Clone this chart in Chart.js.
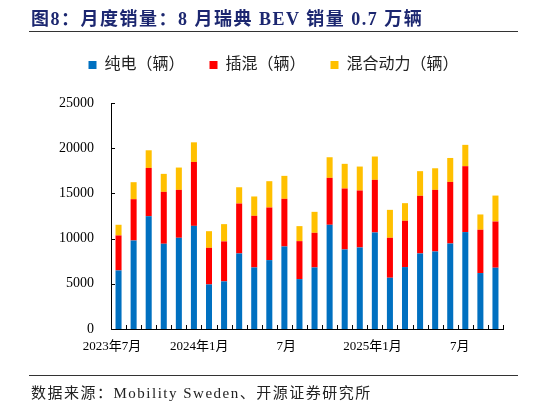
<!DOCTYPE html>
<html>
<head>
<meta charset="utf-8">
<script src="https://cdn.jsdelivr.net/npm/chart.js@4.4.0/dist/chart.umd.min.js"></script>
<style>
  body { margin: 0; background: #fff; }
  #wrap { position: relative; width: 546px; height: 407px; }
  #title {
    position: absolute; left: 31px; top: 4px;
    font: bold 18px "Liberation Serif", "Noto Sans CJK SC", serif;
    letter-spacing: 1.5px;
    color: #1c2770; white-space: nowrap;
  }
  .rule { position: absolute; left: 29px; width: 489px; height: 1px; background: #333; }
  #source {
    position: absolute; left: 31px; top: 381px;
    font: 15px "Liberation Serif", "Noto Sans CJK SC", serif;
    letter-spacing: 1.5px;
    color: #222; white-space: nowrap;
  }
</style>
</head>
<body>
<div id="wrap">
  <canvas id="salesChart"></canvas>
  <div id="title">图8：月度销量：8 月瑞典 BEV 销量 0.7 万辆</div>
  <div class="rule" style="top:31px"></div>
  <div class="rule" style="top:375px"></div>
  <div id="source">数据来源：Mobility Sweden、开源证券研究所</div>
</div>
<script>
//////////////////////// Data ////////////////////////
const months = ['2023年7月', '2023年8月', '2023年9月', '2023年10月', '2023年11月', '2023年12月',
    '2024年1月', '2024年2月', '2024年3月', '2024年4月', '2024年5月', '2024年6月',
    '2024年7月', '2024年8月', '2024年9月', '2024年10月', '2024年11月', '2024年12月',
    '2025年1月', '2025年2月', '2025年3月', '2025年4月', '2025年5月', '2025年6月',
    '2025年7月', '2025年8月'];
// only some months get a label on the axis (date-axis style, sits a bit left of its bar)
const tickLabels = ['2023年7月', '2024年1月', '7月', '2025年1月', '7月'];
const tickPositions = [-0.43, 5.36, 11.12, 16.85, 22.63];

const bev = [6480, 9790, 12480, 9430, 10090, 11410, 4930, 5270, 8360, 6810, 7620, 9130, 5520,
    6810, 11530, 8800, 9020, 10680, 5670, 6850, 8360, 8580, 9460, 10720, 6190, 6780];
const phev = [3870, 4570, 5340, 5740, 5300, 7070, 4050, 4420, 5520, 5710, 5820, 5270, 4200,
    3830, 5190, 6740, 6300, 5820, 4420, 5120, 6370, 6810, 6810, 7290, 4790, 5110];
const hev = [1180, 1880, 1950, 1990, 2470, 2170, 1840, 1910, 1800, 2140, 2910, 2540, 1660,
    2320, 2280, 2730, 2650, 2580, 3090, 1950, 2730, 2390, 2650, 2360, 1690, 2870];

//////////////////////// Chart ////////////////////////
const serif = '"Liberation Serif", "Noto Sans CJK SC", serif';

// extra room between legend and plot, and centre the legend on the page
const legendGap = {
    id: 'legendGap',
    beforeInit(chart) {
        const origFit = chart.legend.fit;
        chart.legend.fit = function() {
            origFit.bind(chart.legend)();
            this.height += 20;
        };
    },
    afterLayout(chart) {
        chart.legend.left += 22;
        chart.legend.right += 22;
    }
};

// small inward tick marks + the x labels like the original
const axisExtras = {
    id: 'axisExtras',
    afterDraw(chart) {
        const { ctx, chartArea, scales } = chart;
        ctx.save();
        ctx.strokeStyle = '#000';
        ctx.lineWidth = 1;
        ctx.beginPath();
        scales.y.ticks.forEach((t, i) => {
            const y = Math.round(scales.y.getPixelForTick(i)) + 0.5;
            ctx.moveTo(chartArea.left, y);
            ctx.lineTo(chartArea.left + 4, y);
        });
        for (let i = 0; i <= months.length; i++) {
            const x = Math.round(scales.x.getPixelForValue(i - 0.5)) + 0.5;
            ctx.moveTo(x, chartArea.bottom);
            ctx.lineTo(x, chartArea.bottom - 4);
        }
        ctx.stroke();

        ctx.fillStyle = '#000';
        ctx.font = '13px ' + serif;
        ctx.textAlign = 'center';
        ctx.textBaseline = 'middle';
        tickLabels.forEach((lab, k) => {
            ctx.fillText(lab, scales.x.getPixelForValue(tickPositions[k]), chartArea.bottom + 18);
        });
        ctx.restore();
    }
};

const config = {
    type: 'bar',
    data: {
        labels: months,
        datasets: [
            { label: '纯电（辆）', data: bev, backgroundColor: '#0070C0' },
            { label: '插混（辆）', data: phev, backgroundColor: '#FF0000' },
            { label: '混合动力（辆）', data: hev, backgroundColor: '#FFC000' }
        ]
    },
    options: {
        responsive: true,
        maintainAspectRatio: false,
        animation: false,
        datasets: { bar: { barPercentage: 0.4, categoryPercentage: 1 } },
        layout: { padding: { left: 0, right: 43, top: 32, bottom: 48 } },
        plugins: {
            legend: {
                position: 'top',
                labels: {
                    boxWidth: 8,
                    boxHeight: 8,
                    padding: 25,
                    color: '#222',
                    font: { family: serif, size: 16 }
                }
            },
            tooltip: { enabled: false }
        },
        scales: {
            x: {
                stacked: true,
                grid: { display: false, drawTicks: false },
                border: { display: true, color: '#000', width: 1 },
                ticks: { display: false },
                afterFit: function(scale) { scale.height = 30; }
            },
            y: {
                stacked: true,
                min: 0,
                max: 25000,
                grid: { display: false, drawTicks: false },
                border: { display: true, color: '#000', width: 1 },
                ticks: {
                    stepSize: 5000,
                    padding: 17,
                    color: '#000',
                    font: { family: serif, size: 14 },
                    callback: function(value) { return String(value); }
                },
                afterFit: function(scale) { scale.width = 111; }
            }
        }
    },
    plugins: [legendGap, axisExtras]
};

const ctx = document.getElementById('salesChart').getContext('2d');
new Chart(ctx, config);
</script>
</body>
</html>
